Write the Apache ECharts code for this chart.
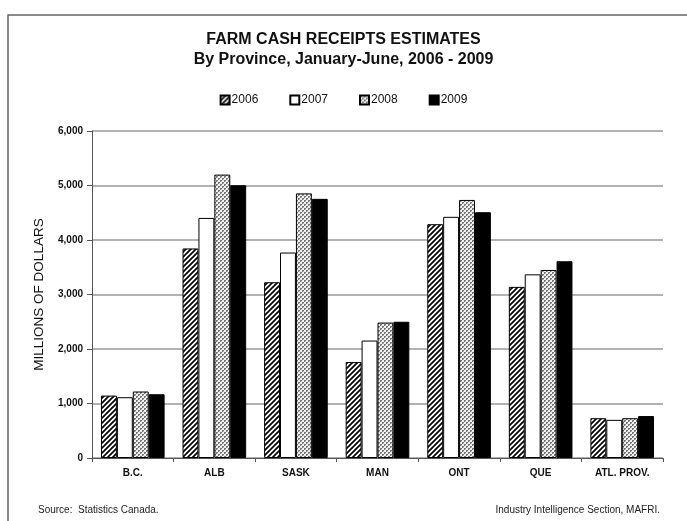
<!DOCTYPE html>
<html>
<head>
<meta charset="utf-8">
<script src="https://cdn.jsdelivr.net/npm/echarts@6/dist/echarts.min.js"></script>
<style>
html,body{margin:0;padding:0;background:#fff;}
#chart{width:687px;height:521px;}
</style>
</head>
<body>
<div id="chart"></div>
<script>
const categories = ['B.C.', 'ALB', 'SASK', 'MAN', 'ONT', 'QUE', 'ATL. PROV.'];
const years = ['2006', '2007', '2008', '2009'];
const v2006 = [1145, 3845, 3225, 1760, 4290, 3140, 730];
const v2007 = [1115, 4405, 3770, 2155, 4425, 3370, 700];
const v2008 = [1220, 5200, 4855, 2485, 4735, 3450, 730];
const v2009 = [1170, 5005, 4755, 2500, 4510, 3610, 770];
const yTicks = [0, 1000, 2000, 3000, 4000, 5000, 6000];

function hatchPattern() {
  const c = document.createElement('canvas');
  c.width = 5; c.height = 5;
  const g = c.getContext('2d');
  g.fillStyle = '#fff'; g.fillRect(0, 0, 5, 5);
  g.strokeStyle = '#000'; g.lineWidth = 1.7;
  g.beginPath();
  g.moveTo(-1, 6); g.lineTo(6, -1);
  g.moveTo(-1, 1); g.lineTo(1, -1);
  g.moveTo(4, 6); g.lineTo(6, 4);
  g.stroke();
  return c;
}
function checkPattern() {
  const c = document.createElement('canvas');
  c.width = 4; c.height = 4;
  const g = c.getContext('2d');
  g.fillStyle = '#f2f2f2'; g.fillRect(0, 0, 4, 4);
  g.fillStyle = '#777';
  g.fillRect(0, 0, 2, 2);
  g.fillRect(2, 2, 2, 2);
  g.fillStyle = '#bbb';
  g.fillRect(1, 1, 1, 1);
  g.fillRect(3, 3, 1, 1);
  return c;
}

const fills = [
  { image: hatchPattern(), repeat: 'repeat' },
  '#ffffff',
  { image: checkPattern(), repeat: 'repeat' },
  '#000000'
];
const dataSets = [v2006, v2007, v2008, v2009];

const chart = echarts.init(document.getElementById('chart'), null, { renderer: 'canvas' });
const fontFam = '"Liberation Sans", Arial, sans-serif';

chart.setOption({
  animation: false,
  backgroundColor: '#fff',
  textStyle: { fontFamily: fontFam },
  title: [
    { text: 'FARM CASH RECEIPTS ESTIMATES', left: 'center', top: 27,
      textStyle: { fontSize: 16, fontWeight: 'bold', color: '#111', fontFamily: fontFam } },
    { text: 'By Province, January-June, 2006 - 2009', left: 'center', top: 47,
      textStyle: { fontSize: 16, fontWeight: 'bold', color: '#111', fontFamily: fontFam } }
  ],
  graphic: [
    { type: 'rect', shape: { x: 8, y: 15, width: 700, height: 520 },
      style: { fill: 'none', stroke: '#666', lineWidth: 1.5 }, silent: true },
    { type: 'text', left: 38, top: 505,
      style: { text: 'Source:  Statistics Canada.', fontSize: 10, fill: '#222', fontFamily: fontFam } },
    { type: 'text', right: 27, top: 505,
      style: { text: 'Industry Intelligence Section, MAFRI.', fontSize: 10, fill: '#222', fontFamily: fontFam } }
  ],
  legend: {
    top: 89, left: 'center',
    itemWidth: 9, itemHeight: 9, itemGap: 31,
    icon: 'rect',
    textStyle: { fontSize: 12, color: '#111', fontFamily: fontFam, padding: [0, 0, 0, -3] },
    data: years
  },
  grid: { left: 92, right: 24, top: 131, bottom: 63, containLabel: false },
  xAxis: {
    type: 'category', data: categories,
    axisLine: { lineStyle: { color: '#555', width: 1 } },
    axisTick: { show: true, alignWithLabel: false, length: 4, lineStyle: { color: '#555' } },
    axisLabel: { fontSize: 10, fontWeight: 'bold', color: '#111', margin: 10, fontFamily: fontFam }
  },
  yAxis: {
    type: 'value', min: 0, max: 6000, interval: 1000,
    name: 'MILLIONS OF DOLLARS', nameLocation: 'middle', nameGap: 46, nameRotate: 90,
    nameTextStyle: { fontSize: 13.5, fontWeight: 'normal', color: '#111', fontFamily: fontFam },
    axisLine: { show: true, lineStyle: { color: '#555' } },
    axisTick: { show: true, length: 5, lineStyle: { color: '#555' } },
    axisLabel: {
      fontSize: 10, fontWeight: 'bold', color: '#111', margin: 9, fontFamily: fontFam,
      formatter: v => yTicks.includes(v) ? v.toLocaleString('en-US') : ''
    },
    splitLine: { lineStyle: { color: '#999', width: 1.5 } }
  },
  series: years.map((y, i) => ({
    name: y, type: 'bar', data: dataSets[i],
    barGap: '0%', barCategoryGap: '22%',
    itemStyle: { color: fills[i], borderColor: '#000', borderWidth: 1 }
  }))
});
</script>
</body>
</html>
